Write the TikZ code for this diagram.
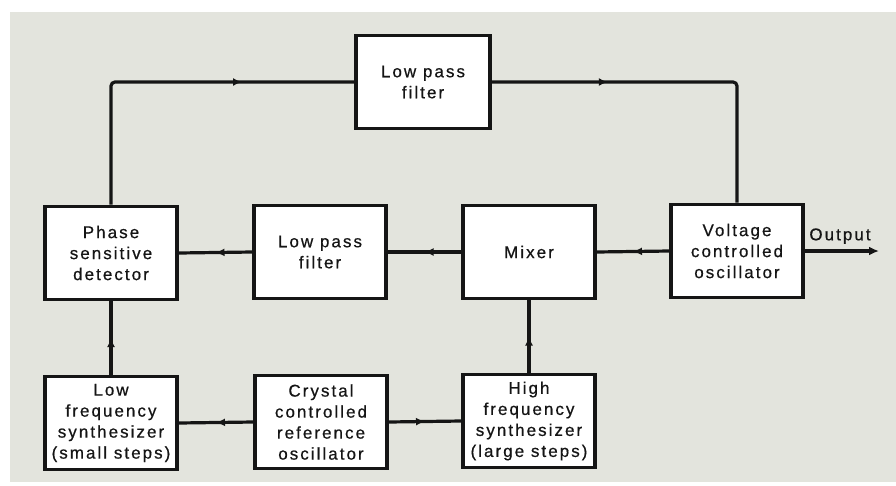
\documentclass[tikz,border=0pt]{standalone}
\usepackage{fontspec}
\setmainfont{Liberation Sans}[LetterSpace=12,FakeBold=0.6]
\usetikzlibrary{arrows.meta,decorations.markings}
\definecolor{paper}{HTML}{E3E4DD}
\definecolor{ink}{HTML}{151515}
\tikzset{
  blk/.style={draw=ink,line width=3.6pt,fill=white,minimum width=132pt,minimum height=93pt,
    align=center,inner sep=0pt,font=\fontsize{17}{21}\selectfont,text=ink},
  wire/.style={draw=ink,line width=3.2pt},
  midarrow/.style={postaction={decorate},decoration={markings,
    mark=at position #1 with {\arrow{Latex[length=9pt,width=8pt]}}}}
}
\begin{document}
\begin{tikzpicture}[x=1pt,y=-1pt]
\useasboundingbox (0,0) rectangle (896,485);
\fill[white] (0,0) rectangle (896,485);
\fill[paper] (10,12) rectangle (896,482);

\node[blk,minimum width=134pt] (lpft) at (423,82) {Low pass\\filter};
\node[blk] (psd) at (111,253) {Phase\\sensitive\\detector};
\node[blk] (lpfm) at (320,252) {Low pass\\filter};
\node[blk] (mix) at (529,252) {Mixer};
\node[blk] (vco) at (737,251) {Voltage\\controlled\\oscillator};
\node[blk] (lfs) at (111,423) {Low\\frequency\\synthesizer\\(small steps)};
\node[blk] (xtal) at (321,422) {Crystal\\controlled\\reference\\oscillator};
\node[blk] (hfs) at (529,421) {High\\frequency\\synthesizer\\(large steps)};

\coordinate (tl) at (psd.north |- lpft.west);
\coordinate (tr) at (vco.north |- lpft.east);
\coordinate (out) at (879,251);

\draw[wire,rounded corners=4pt,midarrow=252pt] (psd.north) -- (tl) -- (lpft.west);
\draw[wire,rounded corners=4pt,midarrow=116pt] (lpft.east) -- (tr) -- (vco.north);
\draw[wire,midarrow=0.5] (vco.west) -- (mix.east);
\draw[wire,midarrow=0.5] (mix.west) -- (lpfm.east);
\draw[wire,midarrow=0.5] (lpfm.west) -- (psd.east);
\draw[wire,midarrow=0.5] (lfs.north) -- (psd.south);
\draw[wire,midarrow=0.5] (hfs.north) -- (mix.south);
\draw[wire,midarrow=0.5] (xtal.west) -- (lfs.east);
\draw[wire,midarrow=0.5] (xtal.east) -- (hfs.west);
\draw[wire,-{Latex[length=10pt,width=9pt]}] (vco.east) -- (out);
\node[font=\fontsize{17}{21}\selectfont,text=ink,anchor=south,inner sep=0pt] (outlbl) at (840,244) {Output};
\end{tikzpicture}
\end{document}
